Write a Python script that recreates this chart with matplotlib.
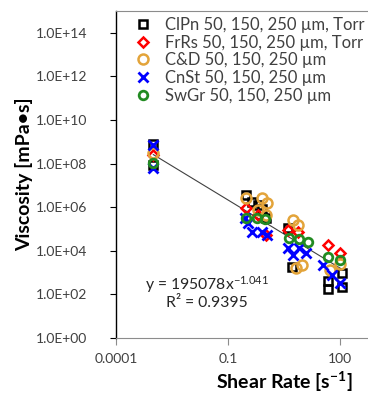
"""Viscosity vs shear rate, log-log, with power-law trendline."""

import matplotlib
matplotlib.use("Agg")
import matplotlib.pyplot as plt
import numpy as np

plt.rcParams["font.family"] = ["Lato", "DejaVu Sans"]
plt.rcParams["mathtext.default"] = "regular"

# shear rate [1/s] and log10 viscosity [mPa*s]
clpn_x = [0.001, 0.001, 0.3, 0.45, 0.65, 0.8, 1.05, 4, 5.2, 48, 48, 110, 110]
clpn_logy = [8.92, 7.95, 6.55, 6.25, 6.1, 5.9, 5.5, 5.05, 3.26, 2.6, 2.25, 3.0, 2.35]

frrs_x = [0.001, 0.3, 0.65, 1.05, 4, 7.5, 48, 100]
frrs_logy = [8.39, 5.96, 5.64, 4.72, 4.95, 4.86, 4.27, 3.9]

cd_x = [0.001, 0.3, 0.8, 1.1, 0.65, 1.05, 5.5, 7.5, 9.6, 6.5, 55, 100]
cd_logy = [8.5, 6.42, 6.42, 6.19, 5.87, 5.64, 5.41, 5.18, 3.35, 3.21, 3.12, 3.4]

cnst_x = [0.001, 0.001, 0.29, 0.35, 0.45, 0.8, 1.1, 4, 5.5, 8, 12, 35, 60, 100]
cnst_logy = [8.85, 7.8, 5.5, 5.28, 4.86, 4.86, 4.72, 4.13, 3.81, 4.13, 3.9, 3.35, 2.9, 2.52]

swgr_x = [0.001, 0.3, 0.6, 1.0, 4.2, 8, 14, 48, 100]
swgr_logy = [8.05, 5.5, 5.5, 5.45, 4.6, 4.55, 4.4, 3.72, 3.58]

labels = ["ClPn 50, 150, 250 \u00b5m, Torr", "FrRs 50, 150, 250 \u00b5m, Torr",
          "C&D 50, 150, 250 \u00b5m", "CnSt 50, 150, 250 \u00b5m",
          "SwGr 50, 150, 250 \u00b5m"]

# power-law fit reported on the chart
fit_a = 195078
fit_b = -1.041
fit_r2 = 0.9395
fit_range = [0.001, 100]


def main():
    fig = plt.figure(figsize=(3.68, 3.98), dpi=100)
    # plot area runs past the right edge of the image, as in the reference crop
    ax = fig.add_axes([116 / 368, 60 / 398, 336 / 368, 327 / 398])
    ax.set_xscale("log")
    ax.set_yscale("log")
    ax.set_xlim(1e-4, 1e5)
    ax.set_ylim(1, 1e15)

    fx = np.array(fit_range)
    ax.plot(fx, fit_a * fx ** fit_b, color="#404040", lw=0.8, zorder=1)

    ms = 6.2
    ax.plot(clpn_x, 10.0 ** np.array(clpn_logy), ls="none", marker="s", ms=ms,
            mfc="none", mec="black", mew=1.8, label=labels[0])
    ax.plot(frrs_x, 10.0 ** np.array(frrs_logy), ls="none", marker="D",
            ms=ms - 1, mfc="none", mec="red", mew=1.8, label=labels[1])
    ax.plot(cd_x, 10.0 ** np.array(cd_logy), ls="none", marker="o", ms=ms + 1,
            mfc="none", mec="#E3A43A", mew=1.8, label=labels[2])
    ax.plot(cnst_x, 10.0 ** np.array(cnst_logy), ls="none", marker="x",
            ms=ms + 1, mec="blue", mew=2.0, label=labels[3])
    ax.plot(swgr_x, 10.0 ** np.array(swgr_logy), ls="none", marker="o", ms=ms,
            mfc="none", mec="#228B22", mew=2.0, label=labels[4])

    ax.set_xticks([1e-4, 1e-1, 1e2])
    ax.set_xticklabels(["0.0001", "0.1", "100"])
    ax.set_yticks([10.0 ** k for k in range(0, 15, 2)])
    ax.set_yticklabels([f"1.0E+{k:02d}" for k in range(0, 15, 2)])
    ax.minorticks_off()
    ax.tick_params(labelsize=10, labelcolor="#404040", width=0.8)
    ax.tick_params(axis="x", colors="#8c8c8c", labelcolor="#404040",
                   length=5, pad=6)
    ax.tick_params(axis="y", colors="black", labelcolor="#404040",
                   length=4.5, pad=16)

    for side in ("top", "bottom", "right"):
        ax.spines[side].set_color("#8c8c8c")
        ax.spines[side].set_linewidth(0.8)
    ax.spines["left"].set_color("black")
    ax.spines["left"].set_linewidth(1.0)

    ax.set_xlabel("Shear Rate [s$^{\\mathregular{-1}}$]", fontsize=14,
                  fontweight="bold", labelpad=3)
    ax.set_ylabel("Viscosity [mPa\u2022s]", fontsize=14,
                  fontweight="bold", labelpad=2)

    ax.text(0.0275, 10 ** 2.43, "y = 195078x$^{\\mathregular{-1.041}}$",
            fontsize=11.3, color="#262626", ha="center", va="center")
    ax.text(0.0275, 10 ** 1.6, f"R\u00b2 = {fit_r2}", fontsize=11.3,
            color="#262626", ha="center", va="center")

    fig.legend(loc="upper left", bbox_to_anchor=(135 / 368, 1 - 17 / 398),
               frameon=False, fontsize=12, handlelength=1.0,
               handletextpad=0.8, labelspacing=0.1, borderpad=0,
               borderaxespad=0, labelcolor="#404040")

    fig.savefig("out.png", dpi=100)


if __name__ == "__main__":
    main()
